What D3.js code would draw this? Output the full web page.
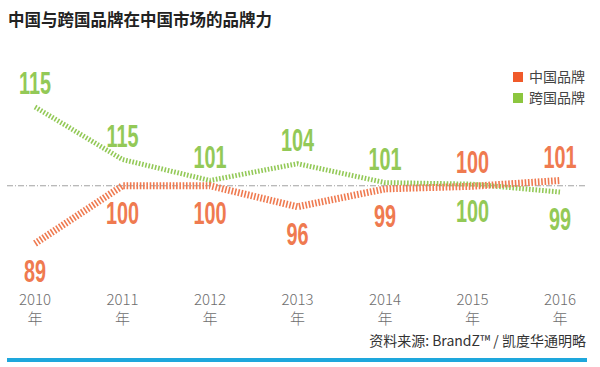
<!DOCTYPE html>
<html><head><meta charset="utf-8">
<script src="https://cdn.jsdelivr.net/npm/d3@7"></script>
<style>body{margin:0;background:#fff}svg{display:block}</style>
</head><body>
<script>
const years = ["2010","2011","2012","2013","2014","2015","2016"];
const chinaValues = [89, 100, 100, 96, 99.4, 99.9, 101];
const intlValues = [115, 105, 101, 104.2, 100.6, 100.3, 98.8];
const chinaLabels = ["89","100","100","96","99","100","101"];
const intlLabels = ["115","115","101","104","101","100","99"];
const seriesNames = ["中国品牌","跨国品牌"];
const title = "中国与跨国品牌在中国市场的品牌力";
const source = "资料来源: BrandZ™ / 凯度华通明略";

const W = 600, H = 367;
const orange = "#ef7a50", green = "#93c957";
const svg = d3.select("body").append("svg").attr("width", W).attr("height", H);
const x = d3.scalePoint().domain(years).range([35, 560]);
const y = d3.scaleLinear().domain([85, 120]).range([264.5, 80.75]);

svg.append("text").attr("x", 8).attr("y", 26).text(title)
  .attr("font-family", "Noto Sans CJK SC").attr("font-weight", "bold")
  .attr("font-size", 16.5).attr("fill", "#222");

// baseline at 100
svg.append("line").attr("x1", 7).attr("x2", 587).attr("y1", y(100)).attr("y2", y(100))
  .attr("stroke", "#8a8a8a").attr("stroke-width", 0.8).attr("stroke-dasharray", "6,2,1,2");

const line = d3.line().x((d, i) => x(years[i])).y(d => y(d));
svg.append("path").datum(intlValues).attr("d", line).attr("fill", "none")
  .attr("stroke", green).attr("stroke-width", 5).attr("stroke-dasharray", "1.6,1.7");
svg.append("path").datum(chinaValues).attr("d", line).attr("fill", "none")
  .attr("stroke", orange).attr("stroke-width", 7).attr("stroke-dasharray", "1.6,1.7");

function numLabel(txt, cx, by, color) {
  svg.append("text").attr("transform", `translate(${cx},${by}) scale(0.64,1)`)
    .attr("text-anchor", "middle").text(txt)
    .attr("font-family", "'Liberation Sans Narrow','Arial Narrow',sans-serif")
    .attr("font-weight", "bold").attr("font-size", 31).attr("fill", color);
}
years.forEach((yr, i) => {
  const chinaAbove = +chinaLabels[i] >= +intlLabels[i];
  const cx = x(yr);
  numLabel(chinaLabels[i], cx, chinaAbove ? y(chinaValues[i]) - 13 : y(chinaValues[i]) + 38, orange);
  numLabel(intlLabels[i], cx, chinaAbove ? y(intlValues[i]) + 38 : y(intlValues[i]) - 13, green);
  const g = svg.append("g").attr("font-family", "'Noto Sans CJK SC'").attr("font-weight", 300)
    .attr("fill", "#6e6e6e").attr("font-size", 15).attr("text-anchor", "middle");
  g.append("text").attr("x", cx).attr("y", 305).text(yr);
  g.append("text").attr("x", cx).attr("y", 324).text("年");
});

// legend
seriesNames.forEach((n, i) => {
  svg.append("rect").attr("x", 513).attr("y", 72 + i * 21).attr("width", 10).attr("height", 10)
    .attr("fill", i === 0 ? "#f05a2a" : "#8cc63f");
  svg.append("text").attr("x", 529).attr("y", 82 + i * 21).text(n)
    .attr("font-family", "'Noto Sans CJK SC'").attr("font-size", 14).attr("fill", "#444");
});

svg.append("text").attr("x", 586).attr("y", 346).attr("text-anchor", "end").text(source)
  .attr("font-family", "'Noto Sans CJK SC'").attr("font-size", 14).attr("fill", "#333");

svg.append("rect").attr("x", 7).attr("y", 358).attr("width", 580).attr("height", 4).attr("fill", "#1ea7dc");
</script>
</body></html>
